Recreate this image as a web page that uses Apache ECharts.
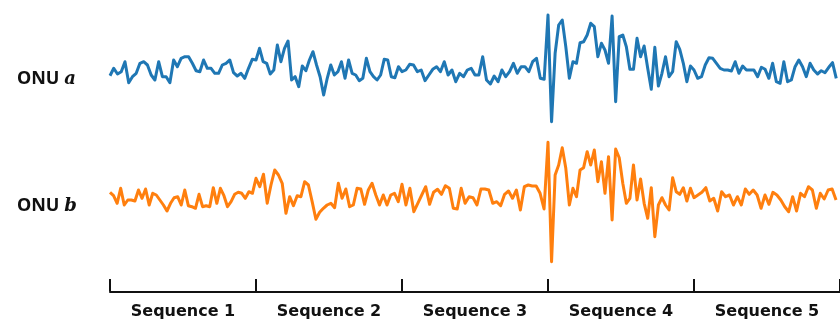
<!DOCTYPE html>
<html>
<head>
<meta charset="utf-8">
<script src="https://cdn.jsdelivr.net/npm/echarts@6/dist/echarts.min.js"></script>
<style>
  html, body { margin: 0; padding: 0; background: #fff; }
  #chart { width: 840px; height: 320px; }
</style>
</head>
<body>
<div id="chart"></div>
<script>
const sequences = ['Sequence 1', 'Sequence 2', 'Sequence 3', 'Sequence 4', 'Sequence 5'];

// ONU a, one block of samples per sequence
const onuA = [
  [-7.7,-0.3,-6,-3.7,6.3,-14.7,-8.7,-5.3,4.7,6.3,3,-7,-12,6.3,-8.7,-8.7,-14.7,8,1.3,9.7,11.3,11.3,4.7,-2.7,-3.7,8,-0.3,-0.3,-5.3,-5.3,3,4.7,8,-4.7,-8,-5.3,-10.3,-0.3,8.7],
  [8,19.7,6.3,4.7,-6,-2,23,6.3,19.7,27,-12,-8.7,-18.7,2,-2.7,8,16.3,3,-8.7,-27,-10.3,3,-7,-3.7,6.3,-10.3,8,-5.3,-7,-12.7,-10.3,9.7,-3.7,-8.7,-12,-7,8.7,8,-8.7,-9.7,1.3],
  [-3.7,-2,3.7,3,-3.7,-2,-12.7,-7,-1.3,1.3,-3.7,6.3,-7,-2,-13.7,-5.3,-8.7,-2,-0.3,-7,-7,11.3,-12,-16,-8,-13.7,-2,-8.7,-3.7,4.7,-5.3,1.3,1.3,-3.7,6.3,9.7,-10.3,-11.3],
  [53,-53.7,14.7,43,48,21.3,-10.3,6.3,4.7,25.3,26.3,33,44.7,41.3,11.3,24.7,18,4.7,52,-33.7,31.3,33,21.3,-1.3,-1.3,29.7,11.3,22,-0.3,-21.3,20.7,-18,-5.3,11.3,-8.7,-3.7,26.3,18.7,4.7,-13.7,2],
  [-2,-10.3,-8.7,3,10.3,9.7,4.7,-0.3,-2,-2,-3,6.3,-5.3,2,-2,-2,-2,-8.7,0.7,-1.3,-10.3,4.7,-13.7,-15.3,6.3,-13.7,-12,1.3,8,1.3,-8.7,4.7,-2,-6,-2.7,-4.7,0.7,5.3,-10.3]
];

// ONU b
const onuB = [
  [2.7,-0.7,-8.3,6.7,-10,-5,-5,-6,5,-3.3,6,-10,1.7,0,-5,-10,-16,-8.3,-2.7,-1.7,-10,5,-10.7,-11.7,-13.3,0.7,-11.7,-10.7,-11.7,7.3,-8.3,6.7,-0.7,-11.7,-6.7,0.7,2.7,1.7,-3.3,3.3,1.7],
  [16.7,8.3,20.7,-8.3,10,25,20,11.7,-18.3,-1.7,-10.7,-0.7,-1.7,13.3,10,-6.7,-24.3,-17.3,-13.3,-10,-8.3,-12.7,11.7,-3.3,6,-11.7,-10,6.7,6,-9.3,5,11.7,0,-10,0,-10,0,1.7,-6.7],
  [10.7,-10,6.7,-16.7,-8.3,0,8.3,-9.3,2.7,5.7,0.7,9.3,6.7,-13.3,-14,6.7,-8.3,-1.7,-2.7,-10,6,6,5,-8.3,-6.7,-10.7,0.7,4,-3.3,5,-15,8.3,10,9,9,1.7,-14],
  [52.7,-66.7,20,30,47.3,26.7,-10,6.7,-1.7,25,27.3,43.3,30,45,13.3,33.3,1.7,38.3,-25,46,37.3,11.7,-8.3,-3.3,30,-5,16,-8.3,-23.3,7.3,-41.7,-10,-2.7,-10,-15,17.3,3.3,0.7,7.3,-6,6.7],
  [-2.7,0,2.7,7.3,-6,-3.3,-16,3.3,-1.7,0,-10,-1.7,-10,6,0.7,5,0,-13.3,0,-9.3,2.7,0,-5,-11.7,-16.7,-1.7,-16,1.7,-1.7,8.3,5,-13.3,1.7,-4,5,6,-5]
];

// spread each block evenly over its sequence
function toPoints(blocks) {
  return blocks.flatMap((seq, s) => seq.map((v, i) => [s + i / seq.length, v]));
}

const chart = echarts.init(document.getElementById('chart'));
const ink = '#111';
const nameRich = {
  n: { fontFamily: 'Noto Sans', fontWeight: 'bold', fontSize: 18, color: ink },
  v: { fontFamily: 'DejaVu Serif', fontStyle: 'italic', fontWeight: 'bold', fontSize: 18, color: ink }
};

const option = {
  animation: false,
  title: [
    { text: '{n|ONU }{v|a}', left: 17, top: 70, padding: 0, textStyle: { rich: nameRich } },
    { text: '{n|ONU }{v|b}', left: 17, top: 197, padding: 0, textStyle: { rich: nameRich } }
  ],
  grid: [
    { left: 110, right: 0, top: 10, height: 115 },
    { left: 110, right: 0, top: 135, height: 130 },
    { left: 110, right: 0, top: 279, height: 12.5 }
  ],
  xAxis: [
    { gridIndex: 0, type: 'value', min: 0, max: 5, show: false },
    { gridIndex: 1, type: 'value', min: 0, max: 5, show: false },
    {
      gridIndex: 2, type: 'category', data: sequences, boundaryGap: true,
      axisLine: { lineStyle: { color: ink, width: 2 } },
      axisTick: { length: 12, lineStyle: { color: ink, width: 2 } },
      splitLine: { show: true, lineStyle: { color: ink, width: 2 } },
      axisLabel: { margin: 12, fontFamily: 'DejaVu Sans', fontWeight: 'bold', fontSize: 16, color: ink }
    }
  ],
  yAxis: [
    { gridIndex: 0, type: 'value', min: -57, max: 58, show: false },
    { gridIndex: 1, type: 'value', min: -70, max: 60, show: false },
    { gridIndex: 2, type: 'value', show: false }
  ],
  series: [
    {
      name: 'ONU a', type: 'line', xAxisIndex: 0, yAxisIndex: 0,
      data: toPoints(onuA), symbol: 'none', clip: false,
      lineStyle: { color: '#1f77b4', width: 3, join: 'round' }
    },
    {
      name: 'ONU b', type: 'line', xAxisIndex: 1, yAxisIndex: 1,
      data: toPoints(onuB), symbol: 'none', clip: false,
      lineStyle: { color: '#ff7f0e', width: 3, join: 'round' }
    }
  ]
};

option && chart.setOption(option);
</script>
</body>
</html>
